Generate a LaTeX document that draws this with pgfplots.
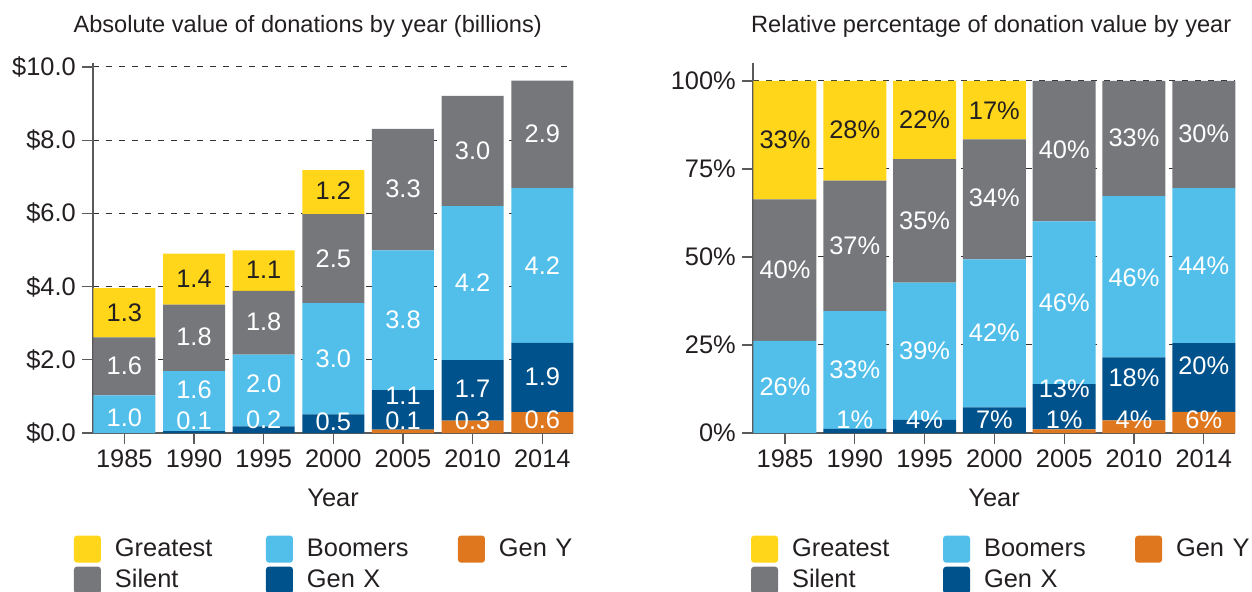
\documentclass[border=0pt]{standalone}
\usepackage{fontspec}
\setmainfont{Liberation Sans}
\usepackage{pgfplots}
\usepackage{pgfplotstable}
\pgfplotsset{compat=1.18}

\definecolor{cGreatest}{HTML}{FFD619}
\definecolor{cSilent}{HTML}{76777B}
\definecolor{cBoomers}{HTML}{52BFEB}
\definecolor{cGenX}{HTML}{00528C}
\definecolor{cGenY}{HTML}{DF771E}
\definecolor{cText}{HTML}{231F20}
\definecolor{cAxis}{HTML}{5A5A5A}

% absolute values, billions (segment heights)
\pgfplotstableread{
x h
0 0
1 0
2 0
3 0
4 0.09
5 0.34
6 0.57
}\absGenY
\pgfplotstableread{
x h
0 0
1 0.05
2 0.18
3 0.51
4 1.08
5 1.65
6 1.89
}\absGenX
\pgfplotstableread{
x h
0 1.03
1 1.64
2 1.96
3 3.04
4 3.82
5 4.21
6 4.23
}\absBoomers
\pgfplotstableread{
x h
0 1.58
1 1.82
2 1.74
3 2.43
4 3.32
5 3.01
6 2.94
}\absSilent
\pgfplotstableread{
x h
0 1.35
1 1.39
2 1.11
3 1.20
4 0
5 0
6 0
}\absGreatest

% printed labels of the left chart and where they sit
\pgfplotstableread{
x ly lab
0 0.415 1.0
0 1.84 1.6
1 0.355 0.1
1 1.19 1.6
1 2.65 1.8
2 0.38 0.2
2 1.36 2.0
2 3.06 1.8
3 0.325 0.5
3 2.03 3.0
3 4.77 2.5
4 0.35 0.1
4 1.02 1.1
4 3.10 3.8
4 6.69 3.3
5 0.35 0.3
5 1.21 1.7
5 4.10 4.2
5 7.73 3.0
6 0.37 0.6
6 1.555 1.9
6 4.58 4.2
6 8.19 2.9
}\absLabW
\pgfplotstableread{
x ly lab
0 3.30 1.3
1 4.23 1.4
2 4.47 1.1
3 6.62 1.2
}\absLabD

% relative shares, percent (segment heights)
\pgfplotstableread{
x h
0 0
1 0
2 0
3 0
4 1.0
5 3.6
6 6.0
}\relGenY
\pgfplotstableread{
x h
0 0
1 1.2
2 3.7
3 7.3
4 12.9
5 17.9
6 19.5
}\relGenX
\pgfplotstableread{
x h
0 26.2
1 33.4
2 39.0
3 42.0
4 46.2
5 45.8
6 44.1
}\relBoomers
\pgfplotstableread{
x h
0 40.2
1 37.1
2 35.1
3 34.1
4 39.9
5 32.7
6 30.4
}\relSilent
\pgfplotstableread{
x h
0 33.6
1 28.3
2 22.2
3 16.6
4 0
5 0
6 0
}\relGreatest

\pgfplotstableread{
x ly lab
0 13.3 26\%
0 46.4 40\%
1 3.7 1\%
1 18.0 33\%
1 53.4 37\%
2 3.8 4\%
2 23.3 39\%
2 60.3 35\%
3 3.8 7\%
3 28.5 42\%
3 66.8 34\%
4 3.7 1\%
4 12.7 13\%
4 37.1 46\%
4 80.5 40\%
5 3.8 4\%
5 15.8 18\%
5 44.2 46\%
5 83.9 33\%
6 3.8 6\%
6 19.1 20\%
6 47.6 44\%
6 85.0 30\%
}\relLabW
\pgfplotstableread{
x ly lab
0 83.4 33\%
1 86.2 28\%
2 89.1 22\%
3 91.5 17\%
}\relLabD

\newcommand\bigfont{\fontsize{12.7}{14}\selectfont}

\pgfplotsset{
  donation axis/.style={
    scale only axis,
    axis lines=left,
    axis line style={-, draw=cAxis, line width=0.6pt},
    ybar stacked,
    enlargelimits=false,
    clip=false,
    ymin=0,
    xtick={0,...,6},
    xticklabels={1985,1990,1995,2000,2005,2010,2014},
    tick align=outside,
    major tick length=5.4pt,
    minor tick num=0,
    tick style={draw=cAxis, line width=0.6pt},
    ymajorgrids,
    major grid style={draw=black!80, line width=0.5pt, dash pattern=on 3pt off 3.5pt},
    tick label style={font=\bigfont, text=cText},
    yticklabel style={inner sep=0pt, xshift=-3pt},
    xticklabel style={inner sep=0pt, yshift=-3pt},
    xlabel={Year},
    xlabel style={at={(0.5,0)}, anchor=base, yshift=-36.9pt, font=\bigfont, text=cText},
    title style={anchor=base, yshift=9.5pt, font=\fontsize{11.8}{13}\selectfont, text=cText},
    legend columns=2, transpose legend, reverse legend,
    legend cell align=left,
    legend style={draw=none, fill=none, inner sep=0pt, outer sep=0pt, anchor=north west,
      font=\bigfont, text=cText, row sep=2pt, column sep=0pt,
      nodes={inner sep=0pt, text width=75.5pt, align=left},
      /tikz/every odd column/.append style={column sep=7pt}},
    legend image code/.code={\fill[##1, draw=none, rounded corners=1.5pt] (0pt,-6.75pt) rectangle (13.5pt,6.75pt);},
  },
  label layer/.style={
    scale only axis, hide axis, enlargelimits=false, clip=false, ymin=0,
    point meta=explicit symbolic,
    nodes near coords,
    every node near coord/.append style={anchor=center, inner sep=0pt, font=\bigfont,
      text=white, text height=9pt, text depth=0pt},
  },
}

\begin{document}
\begin{tikzpicture}
\path[use as bounding box] (0pt,0pt) rectangle (626pt,-296pt);

% ---- left: absolute values
\begin{axis}[donation axis,
  at={(46.5pt,-216.5pt)}, anchor=south west,
  x=34.83pt, y=18.3pt,
  xmin=-0.45, xmax=6.445, ymax=10.1,
  bar width=31pt,
  ytick={0,2,4,6,8,10},
  yticklabels={\$0.0,\$2.0,\$4.0,\$6.0,\$8.0,\$10.0},
  title={Absolute value of donations by year (billions)},
  title style={at={(0.447,1)}},
  legend style={at={(-0.0396,-0.2776)}},
]
\addplot[fill=cGenY, draw=none] table[x=x, y=h] {\absGenY};
\addlegendentry{Gen Y}
\addplot[fill=cGenX, draw=none] table[x=x, y=h] {\absGenX};
\addlegendentry{Gen X}
\addplot[fill=cBoomers, draw=none] table[x=x, y=h] {\absBoomers};
\addlegendentry{Boomers}
\addplot[fill=cSilent, draw=none] table[x=x, y=h] {\absSilent};
\addlegendentry{Silent}
\addplot[fill=cGreatest, draw=none] table[x=x, y=h] {\absGreatest};
\addlegendentry{Greatest}
\end{axis}
\begin{axis}[label layer,
  at={(46.5pt,-216.5pt)}, anchor=south west,
  x=34.83pt, y=18.3pt,
  xmin=-0.45, xmax=6.445, ymax=10.1,
]
\addplot[draw=none] table[x=x, y=ly, meta=lab] {\absLabW};
\addplot[draw=none, every node near coord/.append style={text=cText}] table[x=x, y=ly, meta=lab] {\absLabD};
\end{axis}

% ---- right: relative shares
\begin{axis}[donation axis,
  at={(376.5pt,-216.5pt)}, anchor=south west,
  x=34.9pt, y=1.76pt,
  xmin=-0.458, xmax=6.451, ymax=105.1,
  bar width=31.5pt,
  ytick={0,25,50,75,100},
  yticklabels={0\%,25\%,50\%,75\%,100\%},
  title={Relative percentage of donation value by year},
  title style={at={(0.494,1)}},
  legend style={at={(-0.004,-0.2776)}},
]
\addplot[fill=cGenY, draw=none] table[x=x, y=h] {\relGenY};
\addlegendentry{Gen Y}
\addplot[fill=cGenX, draw=none] table[x=x, y=h] {\relGenX};
\addlegendentry{Gen X}
\addplot[fill=cBoomers, draw=none] table[x=x, y=h] {\relBoomers};
\addlegendentry{Boomers}
\addplot[fill=cSilent, draw=none] table[x=x, y=h] {\relSilent};
\addlegendentry{Silent}
\addplot[fill=cGreatest, draw=none] table[x=x, y=h] {\relGreatest};
\addlegendentry{Greatest}
\end{axis}
\begin{axis}[label layer,
  at={(376.5pt,-216.5pt)}, anchor=south west,
  x=34.9pt, y=1.76pt,
  xmin=-0.458, xmax=6.451, ymax=105.1,
]
\addplot[draw=none] table[x=x, y=ly, meta=lab] {\relLabW};
\addplot[draw=none, every node near coord/.append style={text=cText}] table[x=x, y=ly, meta=lab] {\relLabD};
\end{axis}
\end{tikzpicture}
\end{document}
